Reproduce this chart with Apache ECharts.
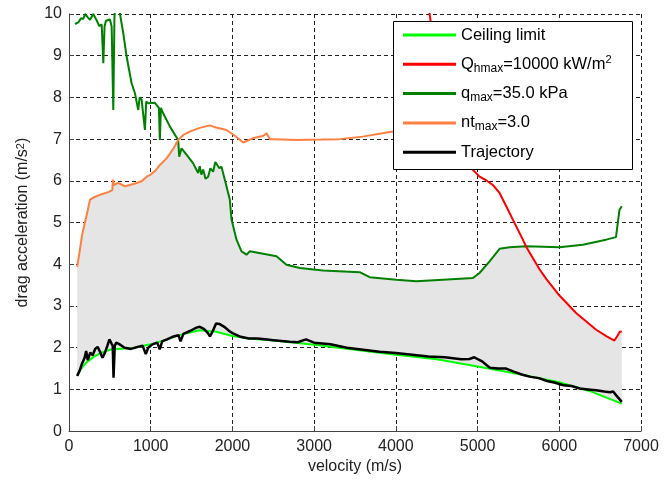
<!DOCTYPE html>
<html><head><meta charset="utf-8">
<script src="https://cdn.jsdelivr.net/npm/echarts@6/dist/echarts.min.js"></script>
<style>html,body{margin:0;padding:0;background:#fff}#c{width:665px;height:480px}</style>
</head><body><div id="c"></div>
<script>
// ---- data ----
const xTicks = [0,1000,2000,3000,4000,5000,6000,7000];
const yTicks = [0,1,2,3,4,5,6,7,8,9,10];

const ceilX = [100,150,200,300,400,500,600,800,1000,1200,1400,1600,1800,2000,2200,2500,3000,3500,4000,4500,5000,5500,6000,6400,6765];
const ceilY = [1.33,1.5,1.62,1.78,1.88,1.95,1.97,2.0,2.08,2.2,2.33,2.42,2.38,2.28,2.22,2.17,2.07,1.95,1.83,1.72,1.55,1.37,1.17,0.94,0.66];

const trajX = [100,130,160,190,210,230,260,290,320,350,380,410,440,470,495,520,535,545,560,580,620,680,760,840,900,940,970,1020,1080,1110,1140,1200,1280,1340,1365,1400,1480,1560,1600,1650,1700,1725,1760,1800,1840,1900,1960,2000,2100,2200,2300,2400,2500,2600,2700,2800,2900,3000,3200,3400,3600,3800,4000,4200,4400,4600,4800,4900,4960,5050,5150,5250,5350,5450,5550,5650,5750,5850,5950,6050,6150,6250,6350,6450,6550,6620,6660,6700,6765];
const trajY = [1.32,1.45,1.62,1.75,1.92,1.7,1.88,1.82,1.97,2.02,1.9,1.76,1.88,2.05,2.2,2.1,2.05,1.28,2.05,2.12,2.08,2.0,1.97,2.02,2.05,1.85,2.0,2.08,2.12,1.96,2.15,2.2,2.27,2.3,2.15,2.33,2.4,2.48,2.5,2.45,2.35,2.27,2.4,2.58,2.57,2.5,2.4,2.35,2.26,2.22,2.22,2.2,2.18,2.16,2.14,2.13,2.2,2.12,2.08,2.0,1.95,1.9,1.87,1.83,1.79,1.77,1.72,1.73,1.77,1.68,1.52,1.5,1.5,1.42,1.35,1.3,1.27,1.2,1.16,1.1,1.08,1.02,1.0,0.98,0.95,0.93,0.95,0.85,0.7];

const ntX = [100,130,160,200,230,257,300,400,480,530,538,550,600,685,800,889,950,1000,1060,1112,1200,1280,1336,1400,1479,1600,1724,1800,1927,2030,2131,2250,2380,2417,2460,2497,2800,3100,3313,3594,3924,4100,4300];
const ntY = [3.94,4.3,4.7,5.05,5.3,5.55,5.6,5.68,5.73,5.78,6.03,5.9,5.95,5.87,5.93,5.99,6.1,6.15,6.25,6.38,6.55,6.78,6.98,7.1,7.18,7.27,7.33,7.28,7.22,7.08,6.92,7.02,7.08,7.14,7.0,7.0,6.98,6.99,7.0,7.06,7.17,7.22,7.28];

const qX = [73,114,150,175,196,230,257,297,338,371,400,420,435,452,501,522,542,556,575,610,624,664,705,766,807,847,865,889,929,945,970,1051,1100,1112,1125,1133,1235,1336,1349,1377,1450,1520,1550,1581,1600,1620,1642,1670,1703,1730,1764,1790,1813,1840,1866,1927,1968,1989,2050,2111,2172,2213,2376,2539,2661,2824,3109,3557,3680,4006,4250,4576,4943,5024,5147,5269,5391,5595,6002,6288,6573,6694,6716,6736,6765];
const qY = [9.76,9.8,9.9,9.88,10.0,9.92,9.86,10.0,9.85,9.71,9.75,8.82,9.7,9.84,9.87,9.7,7.7,9.9,10.5,10.5,10.0,9.54,8.98,8.34,8.1,7.7,8.0,7.94,7.22,7.9,7.86,7.87,7.75,6.98,7.75,7.7,7.3,6.98,6.58,6.78,6.6,6.42,6.3,6.19,6.35,6.15,6.27,6.05,6.1,6.3,6.22,6.45,6.46,6.3,6.34,5.87,5.55,5.07,4.59,4.31,4.23,4.31,4.25,4.19,3.99,3.91,3.85,3.81,3.69,3.63,3.59,3.63,3.67,3.79,4.07,4.37,4.41,4.43,4.41,4.47,4.59,4.65,4.99,5.3,5.39];

const redX = [4380,4413,4450,4550,4680,4800,4923,5024,5100,5187,5269,5351,5432,5554,5595,5676,5758,5840,6002,6206,6451,6580,6675,6716,6740,6765];
const redY = [10.4,10.0,9.5,8.5,7.5,6.85,6.3,6.1,6.02,5.9,5.71,5.39,5.07,4.59,4.42,4.15,3.88,3.65,3.25,2.83,2.43,2.27,2.17,2.3,2.38,2.39];

// crossing points where the feasible-corridor upper bound switches curves
const crossNtQ = 1336;
const crossQRed = 5595;

const FONT = "'Liberation Sans', Arial, sans-serif";
const names = {
  ceil: 'Ceiling limit',
  red: 'Qhmax=10000 kW/m2',
  q: 'qmax=35.0 kPa',
  nt: 'ntmax=3.0',
  traj: 'Trajectory'
};
const richNames = {};
richNames[names.ceil] = 'Ceiling limit';
richNames[names.red] = 'Q{sub|hmax}=10000 kW/m{sup|2}';
richNames[names.q] = 'q{sub|max}=35.0 kPa';
richNames[names.nt] = 'nt{sub|max}=3.0';
richNames[names.traj] = 'Trajectory';

const pairs = (xs, ys) => xs.map((x, i) => [x, ys[i]]);

// fill polygon built from the read curves
const upper = [];
ntX.forEach((x, i) => { if (x <= crossNtQ) upper.push([x, ntY[i]]); });
qX.forEach((x, i) => { if (x > crossNtQ && x <= crossQRed) upper.push([x, qY[i]]); });
redX.forEach((x, i) => { if (x > crossQRed) upper.push([x, redY[i]]); });
const lower = pairs(ceilX, ceilY).reverse();
const fillPoly = upper.concat(lower);

const chart = echarts.init(document.getElementById('c'), null, {renderer: 'canvas'});
const lineSeries = (name, xs, ys, color, width) => ({
  type: 'line', name: name, data: pairs(xs, ys), symbol: 'none', showSymbol: false,
  lineStyle: {color: color, width: width}, itemStyle: {color: color},
  z: 3, animation: false, clip: true
});

chart.setOption({
  backgroundColor: '#fff',
  animation: false,
  grid: {left: 69, right: 24, top: 14, bottom: 48, containLabel: false},
  xAxis: {
    type: 'value', min: 0, max: 7000, interval: 1000,
    name: 'velocity (m/s)', nameLocation: 'middle', nameGap: 26,
    nameTextStyle: {fontFamily: FONT, fontSize: 16, color: '#222'},
    axisLine: {show: true, lineStyle: {color: '#444', width: 1}},
    axisTick: {show: true, inside: true, length: 5, lineStyle: {color: '#444'}},
    axisLabel: {fontFamily: FONT, fontSize: 16, color: '#222', margin: 7,
      formatter: v => xTicks.includes(v) ? String(v) : ''},
    splitLine: {show: true, lineStyle: {color: '#222', type: [4, 3], width: 1}}
  },
  yAxis: {
    type: 'value', min: 0, max: 10, interval: 1,
    name: 'drag acceleration (m/s{sup|2})', nameLocation: 'middle', nameGap: 38,
    nameTextStyle: {fontFamily: FONT, fontSize: 16, color: '#222',
      rich: {sup: {fontFamily: FONT, fontSize: 11, color: '#222', verticalAlign: 'top', lineHeight: 10}}},
    axisLine: {show: true, lineStyle: {color: '#444', width: 1}},
    axisTick: {show: true, inside: true, length: 5, lineStyle: {color: '#444'}},
    axisLabel: {fontFamily: FONT, fontSize: 16, color: '#222', margin: 7,
      formatter: v => yTicks.includes(v) ? String(v) : ''},
    splitLine: {show: true, lineStyle: {color: '#222', type: [4, 3], width: 1}}
  },
  graphic: [{
    type: 'rect', z: 10, silent: true,
    shape: {x: 393.5, y: 21.5, width: 239, height: 148},
    style: {fill: '#fff', stroke: '#000', lineWidth: 1}
  }],
  legend: {
    z: 20, orient: 'vertical', left: 403, top: 25, padding: 0, itemGap: 9.3,
    itemWidth: 53, itemHeight: 3, icon: 'rect', selectedMode: false,
    data: [names.ceil, names.red, names.q, names.nt, names.traj],
    formatter: n => richNames[n],
    textStyle: {fontFamily: FONT, fontSize: 16.5, color: '#000', lineHeight: 20,
      rich: {
        sub: {fontFamily: FONT, fontSize: 12, color: '#000', lineHeight: 10, verticalAlign: 'bottom'},
        sup: {fontFamily: FONT, fontSize: 11, color: '#000', lineHeight: 10, verticalAlign: 'top'}
      }}
  },
  series: [
    {
      type: 'custom', name: 'corridor', z: 1, silent: true, animation: false,
      coordinateSystem: 'cartesian2d',
      data: [[0, 0]],
      renderItem: (params, api) => ({
        type: 'polygon',
        shape: {points: fillPoly.map(p => api.coord(p))},
        style: {fill: '#e5e5e5', stroke: null}
      })
    },
    lineSeries(names.ceil, ceilX, ceilY, '#00ff00', 2),
    lineSeries(names.q, qX, qY, '#008000', 2),
    lineSeries(names.nt, ntX, ntY, '#ff8040', 2),
    lineSeries(names.red, redX, redY, '#ff0000', 2),
    lineSeries(names.traj, trajX, trajY, '#000000', 2.5)
  ]
});
</script></body></html>
